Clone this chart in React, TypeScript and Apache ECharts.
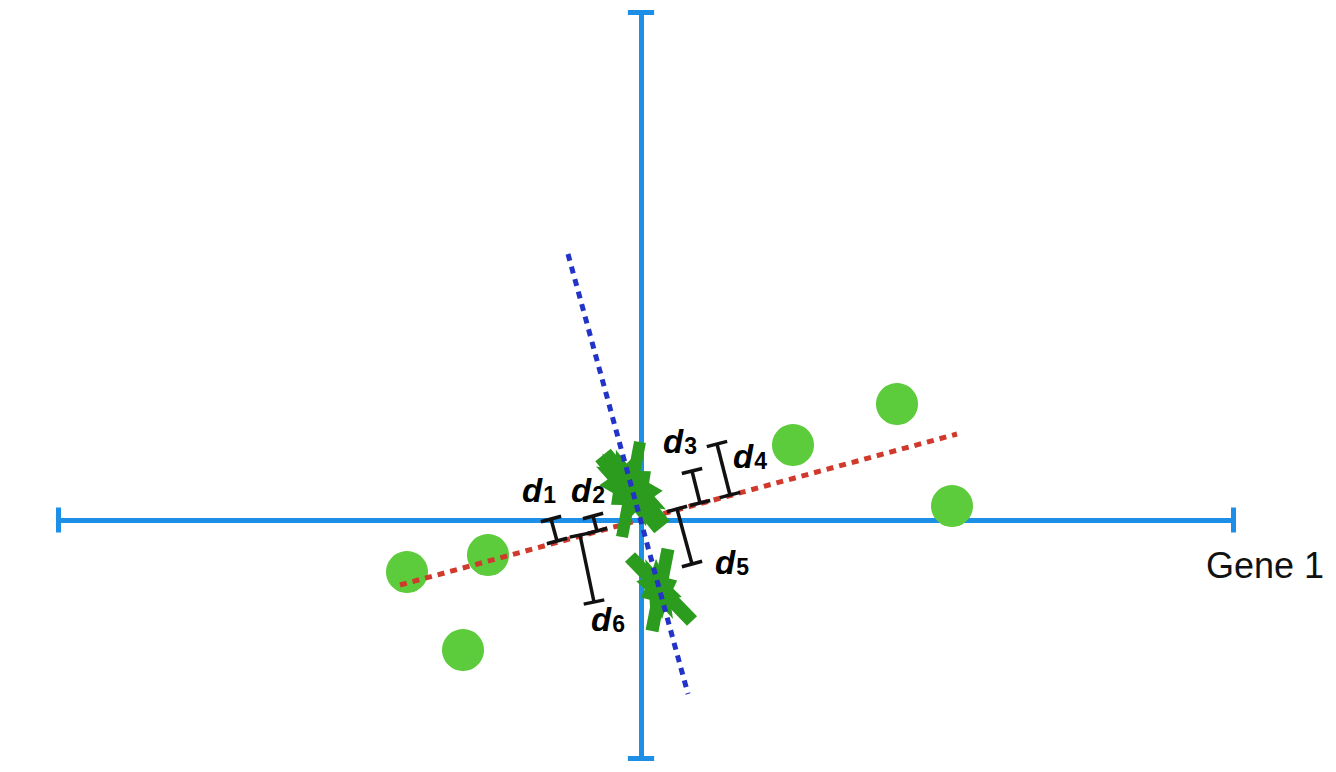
import React, { useEffect, useRef } from "react";
import * as echarts from "echarts";

const FONT = '"Liberation Sans", Arial, Helvetica, sans-serif';

// sample points (Gene 1, Gene 2) in plot units
const sampleX = [-23.4, -15.3, -17.8, 15.2, 25.6, 31.1];
const sampleY = [-5.2, -3.5, -13.0, 7.5, 11.6, 1.4];

// axes extents
const axisH = [[-58.3, 0], [59.2, 0]];
const axisV = [[0, 50.8], [0, -23.8]];
const capHalf = 1.25;

// dotted fitted lines
const pc1Line = [[-24.1, -6.5], [31.6, 8.6]];
const pc2Line = [[-7.3, 26.6], [4.7, -17.4]];

// distance beams
const beamNames = ["1", "2", "3", "4", "5", "6"];
const beamStart = [[-9.0, 0.1], [-4.8, 0.4], [5.1, 4.9], [7.6, 7.6], [3.6, 1.1], [-6.1, -1.5]];
const beamEnd = [[-8.4, -2.1], [-4.4, -1.1], [5.9, 1.7], [8.9, 2.5], [5.1, -4.4], [-4.7, -8.2]];
const labelPos = [[-10.2, 3.0], [-5.3, 3.0], [3.9, 7.9], [10.9, 6.4], [9.1, -4.2], [-3.3, -9.9]];

// green X marks (projected centers)
const markCenters = [[-1.0, 3.2], [1.8, -6.9]];
const markSizes = [[52, 90], [40, 66]];
const markRotate = [40, 25];
const markStrokes = [
  [[-3.8, 6.5], [2.1, -0.7]],
  [[-0.1, 7.8], [-1.9, -1.7]],
  [[-1.1, -3.7], [5.1, -10.1]],
  [[2.7, -2.9], [1.1, -11.1]],
];
const markStrokeWidth = [20, 12, 14, 13];

const geneLabel = [56.5, -4.5];

const STAR =
  "path://M100 50 L82.8 58.8 L93.3 75 L74 74 L75 93.3 L58.8 82.8 L50 100 L41.2 82.8 L25 93.3 L26 74 L6.7 75 L17.2 58.8 L0 50 L17.2 41.2 L6.7 25 L26 26 L25 6.7 L41.2 17.2 L50 0 L58.8 17.2 L75 6.7 L74 26 L93.3 25 L82.8 41.2 Z";

function capsFor(a: number[], b: number[], h: number) {
  const dx = b[0] - a[0];
  const dy = b[1] - a[1];
  const len = Math.hypot(dx, dy) || 1;
  const px = (-dy / len) * h;
  const py = (dx / len) * h;
  return [
    [[a[0] - px, a[1] - py], [a[0] + px, a[1] + py]],
    [[b[0] - px, b[1] - py], [b[0] + px, b[1] + py]],
  ];
}

export default function App() {
  const ref = useRef<HTMLDivElement>(null);
  useEffect(() => {
    if (!ref.current) return;
    const chart = echarts.init(ref.current, null, { renderer: "svg" });
    const BLUE = "#1d8fe6";
    const GREEN_X = "#2c9c1e";

    const axisSegs = [
      { coords: axisH },
      { coords: axisV },
      ...capsFor(axisH[0], axisH[1], capHalf).map((c) => ({ coords: c })),
      ...capsFor(axisV[0], axisV[1], capHalf * 1.05).map((c) => ({ coords: c })),
    ];

    const beamSegs: any[] = [];
    beamStart.forEach((s, i) => {
      beamSegs.push({ coords: [s, beamEnd[i]] });
      capsFor(s, beamEnd[i], 1.05).forEach((c) => beamSegs.push({ coords: c }));
    });

    const markSeries = markCenters.map((c, i) => ({
      type: "scatter",
      z: 4,
      symbol: STAR,
      symbolSize: markSizes[i],
      symbolRotate: markRotate[i],
      symbolKeepAspect: false,
      itemStyle: { color: GREEN_X, opacity: 1 },
      data: [c],
    }));

    chart.setOption({
      animation: false,
      backgroundColor: "#ffffff",
      grid: { left: 0, top: 0, right: 0, bottom: 0 },
      xAxis: { type: "value", min: -64.1, max: 69.5, show: false },
      yAxis: { type: "value", min: -25.2, max: 52.0, show: false },
      series: [
        {
          type: "lines",
          coordinateSystem: "cartesian2d",
          z: 1,
          lineStyle: { color: BLUE, width: 5, opacity: 1, cap: "butt" },
          data: axisSegs,
        },
        {
          type: "scatter",
          z: 2,
          symbol: "circle",
          symbolSize: 42,
          itemStyle: { color: "#5ccb3c", opacity: 1 },
          data: sampleX.map((x, i) => [x, sampleY[i]]),
        },
        {
          type: "lines",
          coordinateSystem: "cartesian2d",
          z: 3,
          lineStyle: { color: "#cf3a2c", width: 5, type: [7, 6], opacity: 1, cap: "butt" },
          data: [{ coords: pc1Line }],
        },
        {
          type: "lines",
          coordinateSystem: "cartesian2d",
          z: 4,
          lineStyle: { color: GREEN_X, width: 13, opacity: 1, cap: "butt" },
          data: markStrokes.map((c, i) => ({
            coords: c,
            lineStyle: { width: markStrokeWidth[i] },
          })),
        },
        ...markSeries,
        {
          type: "lines",
          coordinateSystem: "cartesian2d",
          z: 5,
          lineStyle: { color: "#2233c8", width: 5, type: [7, 6], opacity: 1, cap: "butt" },
          data: [{ coords: pc2Line }],
        },
        {
          type: "lines",
          coordinateSystem: "cartesian2d",
          z: 6,
          lineStyle: { color: "#111111", width: 3.5, opacity: 1, cap: "butt" },
          data: beamSegs,
        },
        {
          type: "scatter",
          z: 7,
          symbolSize: 0,
          silent: true,
          itemStyle: { opacity: 1 },
          data: labelPos.map((p, i) => ({ value: p, name: beamNames[i] })),
          label: {
            show: true,
            position: "inside",
            opacity: 1,
            textBorderWidth: 0,
            formatter: (p: any) => `{d|d}{s|${p.name}}`,
            rich: {
              d: {
                fontFamily: FONT,
                fontSize: 33,
                fontWeight: "bold",
                fontStyle: "italic",
                color: "#000000",
                textBorderWidth: 0,
                lineHeight: 32,
              },
              s: {
                fontFamily: FONT,
                fontSize: 23,
                fontWeight: "bold",
                color: "#000000",
                textBorderWidth: 0,
                lineHeight: 20,
                verticalAlign: "bottom",
                padding: [0, 0, 0, 1],
              },
            },
          },
        },
        {
          type: "scatter",
          z: 7,
          symbolSize: 0,
          silent: true,
          itemStyle: { opacity: 1 },
          data: [{ value: geneLabel, name: "Gene 1" }],
          label: {
            show: true,
            position: "right",
            distance: 0,
            opacity: 1,
            formatter: "{b}",
            fontFamily: FONT,
            fontSize: 36,
            color: "#111111",
          },
        },
      ],
    });
    return () => chart.dispose();
  }, []);
  return (
    <div
      ref={ref}
      style={{ position: "absolute", left: 0, top: 0, width: 1336, height: 772 }}
    />
  );
}
